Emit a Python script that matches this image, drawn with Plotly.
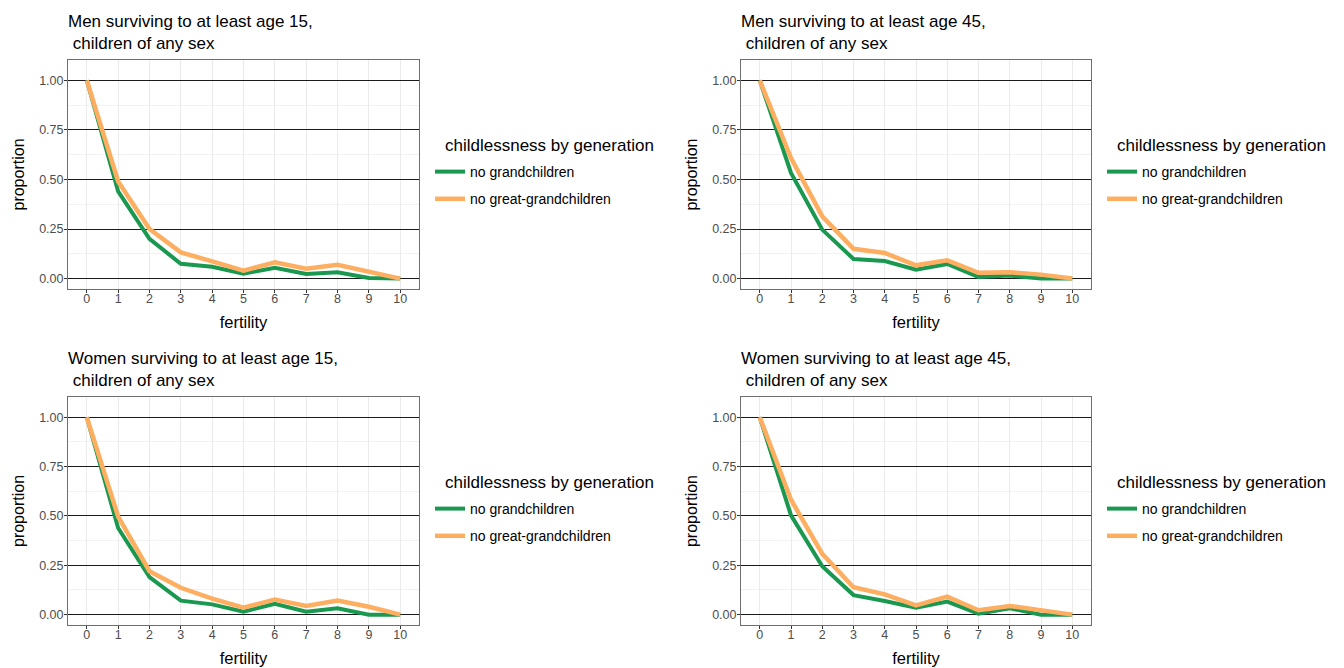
import plotly.graph_objects as go

W, H = 1344, 668

fertility = list(range(11))
tick_labels = [str(v) for v in fertility]
y_ticks = [0.0, 0.25, 0.5, 0.75, 1.0]
y_tick_labels = ["0.00", "0.25", "0.50", "0.75", "1.00"]

series_names = ["no grandchildren", "no great-grandchildren"]
legend_title = "childlessness by generation"

panel_titles = [
    "Men surviving to at least age 15,<br>\u00a0children of any sex",
    "Men surviving to at least age 45,<br>\u00a0children of any sex",
    "Women surviving to at least age 15,<br>\u00a0children of any sex",
    "Women surviving to at least age 45,<br>\u00a0children of any sex",
]

men15_grand = [1.0, 0.44, 0.20, 0.075, 0.06, 0.025, 0.054, 0.023, 0.032, 0.003, 0.0]
men15_great = [1.0, 0.49, 0.25, 0.132, 0.087, 0.04, 0.082, 0.05, 0.07, 0.037, 0.0]
men45_grand = [1.0, 0.533, 0.247, 0.099, 0.089, 0.045, 0.074, 0.008, 0.015, 0.0, 0.0]
men45_great = [1.0, 0.608, 0.314, 0.15, 0.129, 0.067, 0.092, 0.029, 0.032, 0.02, 0.0]
women15_grand = [1.0, 0.439, 0.19, 0.071, 0.052, 0.015, 0.055, 0.015, 0.032, 0.0, 0.0]
women15_great = [1.0, 0.497, 0.22, 0.136, 0.081, 0.035, 0.077, 0.044, 0.072, 0.04, 0.0]
women45_grand = [1.0, 0.503, 0.245, 0.099, 0.069, 0.035, 0.066, 0.005, 0.032, 0.0, 0.0]
women45_great = [1.0, 0.582, 0.308, 0.139, 0.103, 0.047, 0.091, 0.022, 0.044, 0.022, 0.0]

panels = [
    (men15_grand, men15_great),
    (men45_grand, men45_great),
    (women15_grand, women15_great),
    (women45_grand, women45_great),
]

colors = ["#1A9850", "#FDAE61"]
widths = [4, 4.5]
FONT = "Liberation Sans, Arial, Helvetica, sans-serif"

# pixel boxes (left, right, top, bottom)
boxes = [
    (68, 419, 60, 289),
    (741, 1091, 60, 289),
    (68, 419, 397, 625),
    (741, 1091, 397, 625),
]

fig = go.Figure()
layout = dict(
    width=W, height=H,
    margin=dict(l=0, r=0, t=0, b=0, autoexpand=False),
    paper_bgcolor="white", plot_bgcolor="white",
    font=dict(family=FONT, color="black"),
    annotations=[],
)

for i, ((grand, great), (l, r, t, b)) in enumerate(zip(panels, boxes)):
    n = "" if i == 0 else str(i + 1)
    leg = "legend" + n
    for j, (vals, name) in enumerate(zip((grand, great), series_names)):
        fig.add_trace(go.Scatter(
            x=fertility, y=vals, mode="lines", name=name,
            line=dict(color=colors[j], width=widths[j]),
            xaxis="x" + n, yaxis="y" + n, legend=leg,
            legendgroup=f"g{i}_{j}", showlegend=True,
        ))
    xd = [l / W, r / W]
    yd = [1 - b / H, 1 - t / H]
    layout["xaxis" + n] = dict(
        domain=xd, anchor="y" + n, range=[-0.6, 10.6], automargin=False,
        tickvals=fertility, ticktext=tick_labels,
        showgrid=True, gridcolor="#EBEBEB", gridwidth=1.2,
        zeroline=False, showline=True, mirror=True, linecolor="#6E6E6E", linewidth=1,
        ticks="outside", ticklen=3, tickcolor="#333333", tickwidth=1,
        tickfont=dict(size=12.5, color="#4D4D4D"), ticklabelstandoff=-5,
        title=dict(text="fertility", font=dict(size=16.5), standoff=11),
    )
    layout["yaxis" + n] = dict(
        domain=yd, anchor="x" + n, range=[-0.0525, 1.1025], automargin=False,
        tickvals=y_ticks, ticktext=y_tick_labels,
        showgrid=True, gridcolor="#1A1A1A", gridwidth=1.4,
        minor=dict(dtick=0.125, tick0=0, showgrid=True, gridcolor="#F2F2F2", gridwidth=1, ticks=""),
        zeroline=False, showline=True, mirror=True, linecolor="#6E6E6E", linewidth=1,
        ticks="outside", ticklen=3, tickcolor="#333333", tickwidth=1,
        tickfont=dict(size=12.5, color="#4D4D4D"), ticklabelstandoff=-2,
        title=dict(text="proportion", font=dict(size=16), standoff=10),
    )
    layout[leg] = dict(
        x=(r + 11) / W, y=1 - (t + 96) / H, xanchor="left", yanchor="top",
        font=dict(size=14, color="black"),
        bgcolor="rgba(0,0,0,0)", tracegroupgap=6, traceorder="grouped",
    )
    layout["annotations"].append(dict(
        text=panel_titles[i], x=(l - 2) / W, y=1 - (t - 50) / H,
        xref="paper", yref="paper", xanchor="left", yanchor="top",
        align="left", showarrow=False, font=dict(size=17, color="black"),
    ))
    layout["annotations"].append(dict(
        text=legend_title, x=(r + 24) / W, y=1 - (t + 85) / H,
        xref="paper", yref="paper", xanchor="left", yanchor="middle",
        align="left", showarrow=False, font=dict(size=17, color="black"),
    ))

fig.update_layout(**layout)
fig.write_html("out.html", config={"displayModeBar": False},
               post_script="document.body.style.margin='0px';")
